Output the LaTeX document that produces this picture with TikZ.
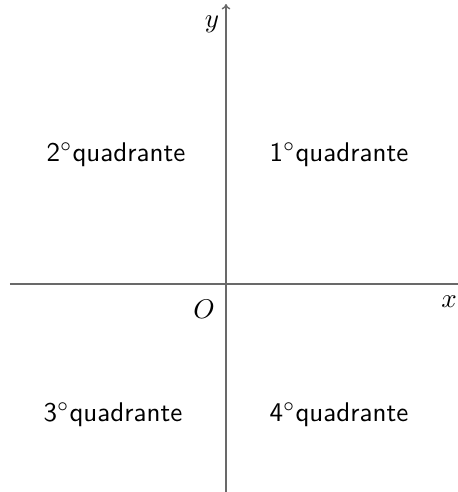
\documentclass[tikz,border=0pt]{standalone}
\usetikzlibrary{arrows.meta}
\definecolor{axisgray}{RGB}{105,105,105}
\begin{document}
\begin{tikzpicture}[x=0.37pt,y=-0.37pt,
  axis/.style={draw=axisgray,line width=0.5pt},
  quad/.style={font=\sffamily,inner sep=0pt},
  lab/.style={inner sep=0pt}]
\useasboundingbox (0,0) rectangle (458,492);
\coordinate (xl) at (10,284);
\coordinate (xr) at (458,284);
\coordinate (yb) at (226,492);
\coordinate (yt) at (226,4);
\draw[axis] (xl) -- (xr);
\draw[axis,-{To[length=2pt,width=3.2pt]}] (yb) -- (yt);
\node[lab] (ylab) at (212,24) {$y$};
\node[lab] (xlab) at (449,302) {$x$};
\node[lab] (olab) at (204,309) {$O$};
\node[quad] (q2) at (116,155) {2$^\circ$quadrante};
\node[quad] (q1) at (339,155) {1$^\circ$quadrante};
\node[quad] (q3) at (113,415) {3$^\circ$quadrante};
\node[quad] (q4) at (339,415) {4$^\circ$quadrante};
\end{tikzpicture}
\end{document}
